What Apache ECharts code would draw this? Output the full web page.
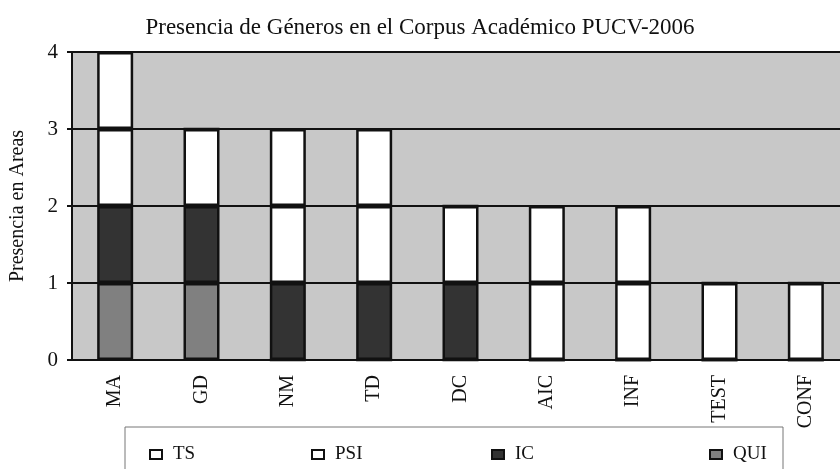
<!DOCTYPE html>
<html>
<head>
<meta charset="utf-8">
<script src="https://cdn.jsdelivr.net/npm/echarts@6/dist/echarts.min.js"></script>
<style>
  html, body { margin: 0; padding: 0; background: #fff; }
  #chart { width: 840px; height: 469px; }
</style>
</head>
<body>
<div id="chart"></div>
<script>
  // categorias y series (orden de apilado: QUI abajo, luego IC, PSI, TS)
  var categories = ['MA', 'GD', 'NM', 'TD', 'DC', 'AIC', 'INF', 'TEST', 'CONF'];
  var qui = [1, 1, 0, 0, 0, 0, 0, 0, 0];
  var ic  = [1, 1, 1, 1, 1, 0, 0, 0, 0];
  var psi = [1, 1, 1, 1, 1, 1, 1, 1, 1];
  var ts  = [1, 0, 1, 1, 0, 1, 1, 0, 0];
  var yTicks = [0, 1, 2, 3, 4];

  var serif = 'Liberation Serif';
  var chart = echarts.init(document.getElementById('chart'));

  function bar(name, data, color) {
    return {
      name: name,
      type: 'bar',
      stack: 'total',
      barWidth: 36,
      data: data,
      itemStyle: { color: color, borderColor: '#111', borderWidth: 2.5 }
    };
  }

  function legendAt(name, x) {
    return {
      data: [name],
      left: x,
      top: 440,
      icon: 'rect',
      itemWidth: 12,
      itemHeight: 9,
      itemGap: 0,
      textStyle: { fontFamily: serif, fontSize: 19, color: '#111', padding: [0, 0, 0, 6] }
    };
  }

  chart.setOption({
    backgroundColor: '#fff',
    animation: false,
    title: {
      text: 'Presencia de Géneros en el Corpus Académico PUCV-2006',
      left: 'center',
      top: 11,
      textStyle: { fontFamily: serif, fontSize: 23, fontWeight: 'normal', color: '#111' }
    },
    graphic: [{
      type: 'rect',
      shape: { x: 125, y: 427, width: 658, height: 60 },
      style: { fill: '#fff', stroke: '#777', lineWidth: 1 },
      z: -1
    }],
    legend: [
      legendAt('TS', 144),
      legendAt('PSI', 306),
      legendAt('IC', 486),
      legendAt('QUI', 704)
    ],
    grid: {
      left: 72,
      top: 52,
      width: 777,
      height: 308,
      containLabel: false,
      outerBoundsMode: 'none',
      show: true,
      backgroundColor: '#c8c8c8',
      borderWidth: 0
    },
    xAxis: {
      type: 'category',
      data: categories,
      axisLine: { lineStyle: { color: '#111', width: 2 } },
      axisTick: { show: false },
      axisLabel: {
        rotate: 90,
        margin: 15,
        fontFamily: serif,
        fontSize: 20,
        color: '#111'
      }
    },
    yAxis: {
      type: 'value',
      min: yTicks[0],
      max: yTicks[yTicks.length - 1],
      interval: 1,
      name: 'Presencia en Areas',
      nameLocation: 'middle',
      nameGap: 44,
      nameTextStyle: { fontFamily: serif, fontSize: 20, color: '#111' },
      axisLine: { show: true, lineStyle: { color: '#111', width: 2 } },
      axisTick: { show: true, length: 5, lineStyle: { color: '#111', width: 2 } },
      splitLine: { lineStyle: { color: '#111', width: 2 } },
      axisLabel: { fontFamily: serif, fontSize: 21, color: '#111', margin: 14 }
    },
    series: [
      bar('QUI', qui, '#808080'),
      bar('IC', ic, '#333333'),
      bar('PSI', psi, '#ffffff'),
      bar('TS', ts, '#ffffff')
    ]
  });
</script>
</body>
</html>
